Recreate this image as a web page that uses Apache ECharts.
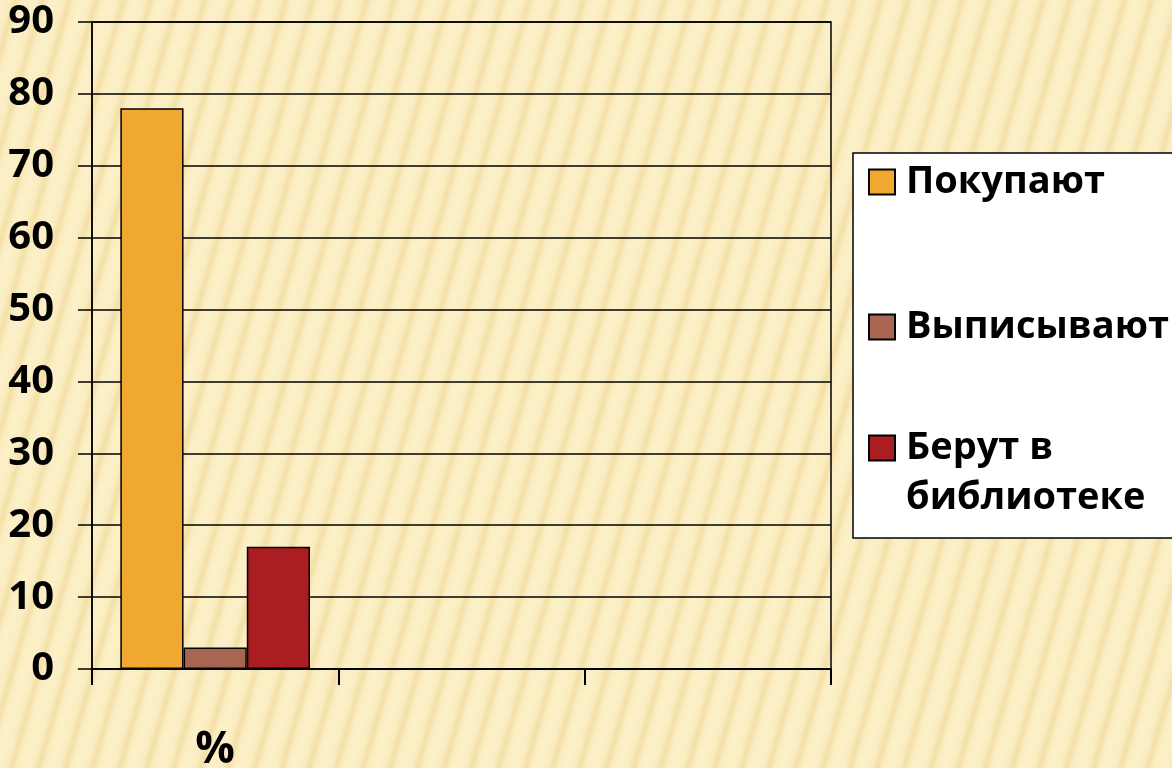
<!DOCTYPE html>
<html>
<head>
<meta charset="utf-8">
<script src="https://cdn.jsdelivr.net/npm/echarts@6/dist/echarts.min.js"></script>
<style>
html,body{margin:0;padding:0;}
body{
  width:1172px;height:768px;overflow:hidden;
  background-color:#FCEFC6;
  background-image:repeating-linear-gradient(106deg,#FCF0C8 0px,#FBEDC2 9px,#F3E0A6 15px,#FBEDC2 20px,#FCF0C8 26px);
}
#chart{width:1172px;height:768px;}
</style>
</head>
<body>
<div id="chart"></div>
<script>
var categories = ['%', '', ''];
var seriesNames = ['Покупают', 'Выписывают', 'Берут в библиотеке'];
var buyValues = [78, null, null];
var subscribeValues = [3, null, null];
var libraryValues = [17, null, null];
var yTicks = [0, 10, 20, 30, 40, 50, 60, 70, 80, 90];

var colors = ['#F0A830', '#A86552', '#AA1E22'];
var fontFamily = '"Open Sans", "Noto Sans", sans-serif';

var chart = echarts.init(document.getElementById('chart'), null, {renderer: 'canvas'});

function legendFor(name, top) {
  return {
    data: [name],
    left: 868,
    top: top,
    orient: 'vertical',
    padding: 0,
    icon: 'rect',
    itemWidth: 26,
    itemHeight: 25,
    selectedMode: false,
    textStyle: {fontFamily: fontFamily, fontWeight: 'bold', fontSize: 38, color: '#000', lineHeight: 50, padding: [0, 0, 0, 6]},
    formatter: function (n) { return n === 'Берут в библиотеке' ? '\nБерут в\nбиблиотеке' : n; }
  };
}

var option = {
  animation: false,
  backgroundColor: 'transparent',
  graphic: [{
    type: 'rect',
    z: 0,
    shape: {x: 853, y: 153, width: 340, height: 385},
    style: {fill: '#ffffff', stroke: '#000000', lineWidth: 1.5}
  }],
  legend: [
    legendFor(seriesNames[0], 157),
    legendFor(seriesNames[1], 302),
    legendFor(seriesNames[2], 373)
  ],
  grid: {
    left: 92, right: 341, top: 22, bottom: 99,
    containLabel: false,
    outerBoundsMode: 'none',
    show: true,
    borderColor: '#000',
    borderWidth: 1.5,
    backgroundColor: 'transparent'
  },
  xAxis: {
    type: 'category',
    data: categories,
    axisLine: {lineStyle: {color: '#000', width: 1.5}},
    axisTick: {show: true, length: 16, lineStyle: {color: '#000', width: 2}, alignWithLabel: false},
    axisLabel: {fontFamily: fontFamily, fontWeight: 'bold', fontSize: 44, color: '#000', margin: 59}
  },
  yAxis: {
    type: 'value',
    min: 0, max: 90, interval: 10,
    axisLine: {show: true, lineStyle: {color: '#000', width: 1.5}},
    axisTick: {show: true, length: 14, lineStyle: {color: '#000', width: 1.5}},
    splitLine: {show: true, lineStyle: {color: '#000', width: 1.5}},
    axisLabel: {
      fontFamily: fontFamily, fontWeight: 'bold', fontSize: 40, color: '#000', margin: 38,
      formatter: function (v) { return yTicks.indexOf(v) >= 0 ? String(v) : ''; }
    }
  },
  series: [
    {name: seriesNames[0], type: 'bar', data: buyValues, barGap: '0%', barCategoryGap: '23%',
     itemStyle: {color: colors[0], borderColor: '#000', borderWidth: 1.5}},
    {name: seriesNames[1], type: 'bar', data: subscribeValues, barGap: '0%', barCategoryGap: '23%',
     itemStyle: {color: colors[1], borderColor: '#000', borderWidth: 1.5}},
    {name: seriesNames[2], type: 'bar', data: libraryValues, barGap: '0%', barCategoryGap: '23%',
     itemStyle: {color: colors[2], borderColor: '#000', borderWidth: 1.5}}
  ]
};
chart.setOption(option);
</script>
</body>
</html>
